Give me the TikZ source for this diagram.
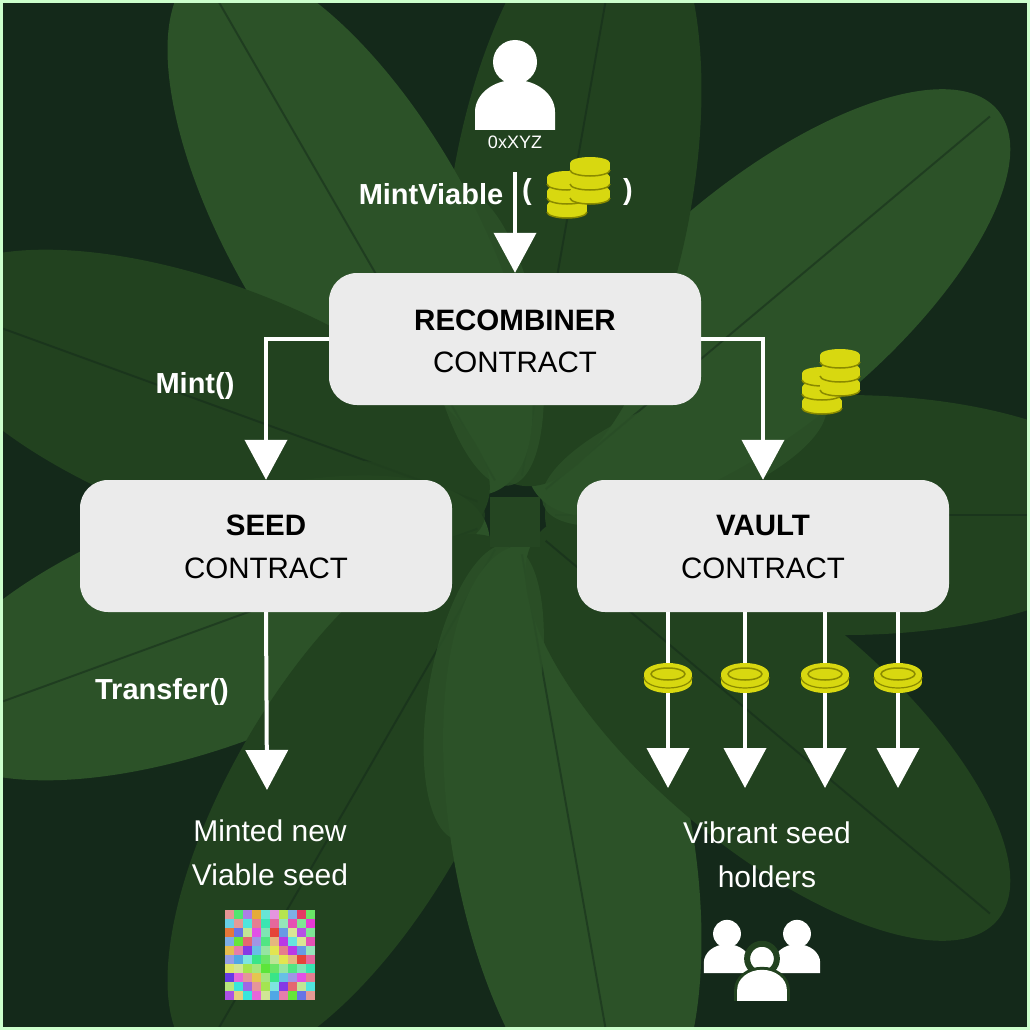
\documentclass[tikz,border=0pt]{standalone}
\usepackage{fontspec}
\setmainfont{Liberation Sans}
\usetikzlibrary{arrows.meta}
\definecolor{bg}{HTML}{14291A}
\definecolor{leafA}{HTML}{22421F}
\definecolor{leafB}{HTML}{2C5228}
\definecolor{box}{HTML}{EBEBEB}
\definecolor{coin}{HTML}{D8D810}
\definecolor{coind}{HTML}{8A8A00}
\tikzset{
  x=1pt,y=-1pt,
  box/.style={draw=none,fill=box,rounded corners=28pt,minimum width=372pt,minimum height=132pt},
  flow/.style={draw=white,line width=4pt,-{Triangle[length=40pt,width=42pt]}},
  lbl/.style={text=white,font=\fontsize{29}{33}\selectfont\bfseries},
  txt/.style={text=white,font=\fontsize{30}{44}\selectfont,align=center},
  bt/.style={font=\fontsize{29.5}{33}\selectfont\bfseries},
  nt/.style={font=\fontsize{29.5}{33}\selectfont},
  pics/stack/.style={code={
    \foreach \dy in {14,0,-14}{
      \fill[coin] (-20,\dy) rectangle (20,\dy-7);
      \fill[coin] (0,\dy) ellipse (20pt and 6pt);
      \draw[coind,line width=1.5pt] (-20,\dy) arc[start angle=180,end angle=360,x radius=20pt,y radius=6pt];
      \fill[coin] (0,\dy-7) ellipse (20pt and 6pt);
    }}},
  pics/coin1/.style={code={
    \fill[coin] (-24,4) rectangle (24,-4);
    \fill[coin] (0,4) ellipse (24pt and 11pt);
    \fill[coin] (0,-4) ellipse (24pt and 11pt);
    \draw[coind,line width=1.5pt] (0,-4) ellipse (17pt and 6pt);
    \draw[coind,line width=1.2pt] (-24,-1) arc[start angle=180,end angle=360,x radius=24pt,y radius=11pt];
  }},
  pics/person/.style={code={
    \fill[white] (0,-28) circle (22pt);
    \fill[white] (-40,40) -- (-40,22) arc[start angle=180,end angle=0,x radius=40pt,y radius=32pt] -- (40,40) -- cycle;
  }}
}
\begin{document}
\begin{tikzpicture}
\useasboundingbox (0,0) rectangle (1030,1030);
\fill[bg] (0,0) rectangle (1030,1030);
\begin{scope}
\clip (0,0) rectangle (1030,1030);
\foreach \a/\c in {0/leafA,40/leafB,80/leafA,120/leafB,160/leafA,200/leafB,240/leafA,280/leafB,320/leafA}{
  \fill[\c,rotate around={\a:(515,515)}] (515+330,515) ellipse (300pt and 120pt);
  \draw[bg,opacity=.5,line width=2pt,rotate around={\a:(515,515)}] (515+40,515) -- (515+620,515);
}
\foreach \a/\c in {20/leafB,100/leafB,180/leafA,260/leafB}{
  \fill[\c,opacity=.8,rotate around={\a:(515,515)}] (515+180,515) ellipse (150pt and 55pt);
}
\fill[leafB!85!black] (490,497) rectangle (540,547);
\end{scope}
\draw[white!80!green,line width=3pt] (1.5,1.5) rectangle (1028.5,1028.5);

\pic at (515,90) {person};
\node[text=white,font=\fontsize{18}{20}\selectfont] (addr) at (515,142) {0xXYZ};
\node[lbl] (mv) at (431,194) {MintViable};
\node[lbl] at (527,192) {(};
\node[lbl] at (628,192) {)};
\pic at (567,198) {stack};
\pic at (590,184) {stack};
\coordinate (top) at (515,172);

\node[box] (rec) at (515,339) {};
\node[bt] at (515,320) {RECOMBINER};
\node[nt] at (515,362) {CONTRACT};
\node[box] (seed) at (266,546) {};
\node[bt] at (266,525) {SEED};
\node[nt] at (266,568) {CONTRACT};
\node[box] (vault) at (763,546) {};
\node[bt] at (763,525) {VAULT};
\node[nt] at (763,568) {CONTRACT};

\draw[flow] (top) -- (rec.north);
\draw[flow] (rec.west) -| (seed.north);
\draw[flow] (rec.east) -| (vault.north);
\node[lbl] at (195,386) {Mint()};
\pic at (822,394) {stack};
\pic at (840,376) {stack};

\coordinate (out) at (267,790);
\draw[flow] (seed.south) -- (out);
\node[lbl] at (162,692) {Transfer()};
\node[txt] (minted) at (270,853) {Minted new\\Viable seed};

\foreach \x [count=\i] in {668,745,825,898}{
  \coordinate (v\i) at (\x,612);
  \coordinate (h\i) at (\x,788);
  \draw[flow] (v\i) -- (h\i);
  \pic at (\x,678) {coin1};
}
\node[txt] (holders) at (767,855) {Vibrant seed\\holders};

% pixel grid
\foreach \i in {0,...,9}{\foreach \j in {0,...,9}{
  \pgfmathsetmacro{\h}{mod(\i*37+\j*53+\i*\j*11,100)/100}
  \pgfmathsetmacro{\s}{0.35+mod(\i*13+\j*7,5)/10}
  \definecolor{px}{hsb}{\h,\s,0.9}
  \fill[px] (225+\i*9,910+\j*9) rectangle +(9,9);
}}
% group icon
\begin{scope}[shift={(727,950)},scale=0.58]\fill[white] (0,-28) circle (24pt); \fill[white] (-40,40) -- (-40,22) arc[start angle=180,end angle=0,x radius=40pt,y radius=32pt] -- (40,40) -- cycle;\end{scope}
\begin{scope}[shift={(797,950)},scale=0.58]\fill[white] (0,-28) circle (24pt); \fill[white] (-40,40) -- (-40,22) arc[start angle=180,end angle=0,x radius=40pt,y radius=32pt] -- (40,40) -- cycle;\end{scope}
\begin{scope}[shift={(762,976)},scale=0.62]\draw[leafA,line width=6pt,fill=white] (0,-28) circle (24pt); \draw[leafA,line width=6pt,fill=white] (-40,40) -- (-40,22) arc[start angle=180,end angle=0,x radius=40pt,y radius=32pt] -- (40,40);\fill[white] (-40,40) -- (-40,22) arc[start angle=180,end angle=0,x radius=40pt,y radius=32pt] -- (40,40) -- cycle;\end{scope}
\end{tikzpicture}
\end{document}
